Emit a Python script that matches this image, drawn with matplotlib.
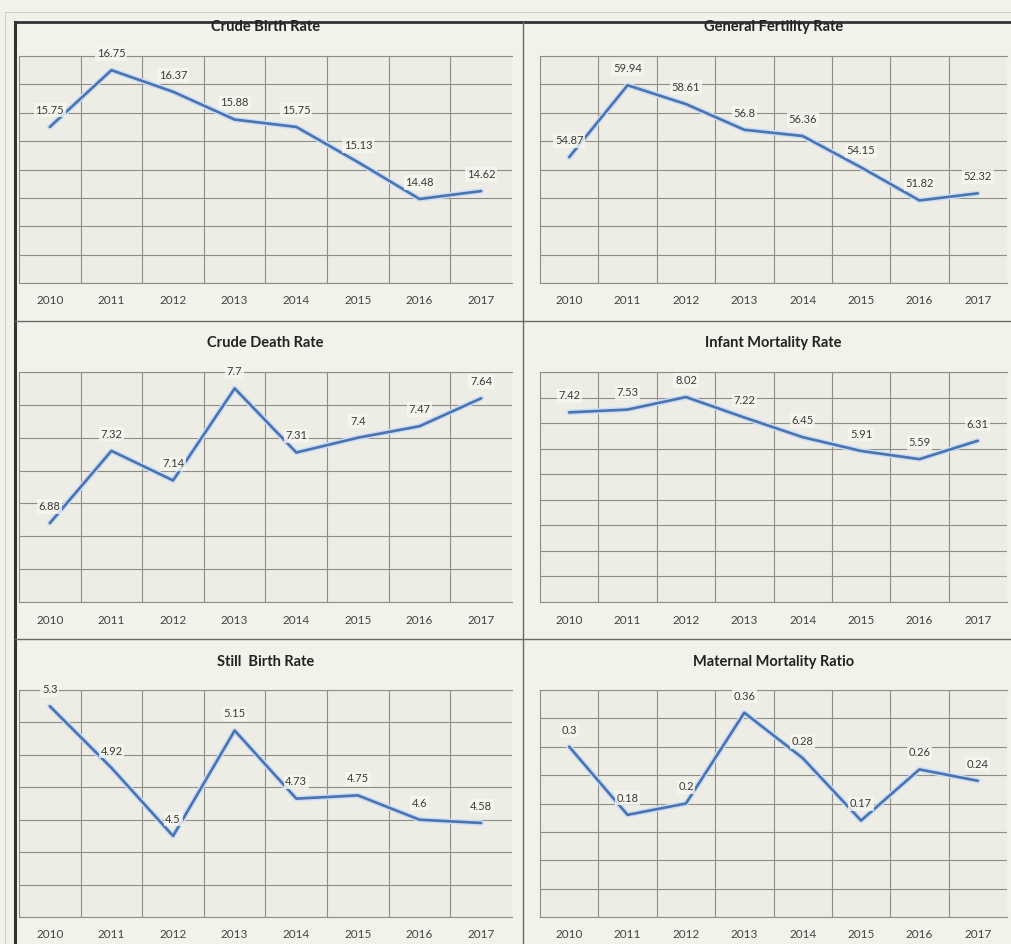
import matplotlib
matplotlib.use("Agg")
import matplotlib.pyplot as plt
from matplotlib.lines import Line2D
import numpy as np

plt.rcParams["font.family"] = ["Lato", "DejaVu Sans"]

W, H = 1012, 944

years = ["2010", "2011", "2012", "2013", "2014", "2015", "2016", "2017"]

crude_birth_rate = [15.75, 16.75, 16.37, 15.88, 15.75, 15.13, 14.48, 14.62]
general_fertility_rate = [54.87, 59.94, 58.61, 56.8, 56.36, 54.15, 51.82, 52.32]
crude_death_rate = [6.88, 7.32, 7.14, 7.7, 7.31, 7.4, 7.47, 7.64]
infant_mortality_rate = [7.42, 7.53, 8.02, 7.22, 6.45, 5.91, 5.59, 6.31]
still_birth_rate = [5.3, 4.92, 4.5, 5.15, 4.73, 4.75, 4.6, 4.58]
maternal_mortality_ratio = [0.3, 0.18, 0.2, 0.36, 0.28, 0.17, 0.26, 0.24]

titles = [
    "Crude Birth Rate", "General Fertility Rate",
    "Crude Death Rate", "Infant Mortality Rate",
    "Still  Birth Rate", "Maternal Mortality Ratio",
]
series = [
    crude_birth_rate, general_fertility_rate,
    crude_death_rate, infant_mortality_rate,
    still_birth_rate, maternal_mortality_ratio,
]

# y axis (min, max, step) for each panel, as in the workbook charts
y_axes = [
    (13, 17, 0.5), (46, 62, 2),
    (6.4, 7.8, 0.2), (0, 9, 1),
    (4.0, 5.4, 0.2), (0, 0.4, 0.05),
]

# pixel boxes (left, top, right, bottom) of the plot areas and title rows
col_x = [(19, 512), (540, 1007)]
row_y = [(56, 283), (372, 602), (690, 917)]
title_y = [27, 343, 662]

BG = "#f2f1ea"
PLOT_BG = "#eeede5"
GRID = "#8e8e88"
LINE = "#4874b4"
GLOW = "#cddcf0"
TEXT = "#3a3a3a"

fig = plt.figure(figsize=(W / 100, H / 100), dpi=100, facecolor=BG)


def px_axes(left, top, right, bottom):
    return fig.add_axes([left / W, 1 - bottom / H, (right - left) / W, (bottom - top) / H])


def fig_line(x0, y0, x1, y1, color, lw):
    fig.add_artist(Line2D([x0 / W, x1 / W], [1 - y0 / H, 1 - y1 / H],
                          transform=fig.transFigure, color=color, lw=lw))


# faint outer frame and table borders
fig_line(5, 12, 1012, 12, "#d0d0c8", 0.8)
fig_line(5, 12, 5, 944, "#d0d0c8", 0.8)
fig_line(15, 22, 1012, 22, "#333333", 2.0)
fig_line(15, 22, 15, 944, "#333333", 2.2)
fig_line(523, 22, 523, 944, "#6a6a66", 1.0)
fig_line(15, 321, 1012, 321, "#6a6a66", 1.0)
fig_line(15, 639, 1012, 639, "#6a6a66", 1.0)

x = np.arange(len(years))

for i, (title, values, (ymin, ymax, step)) in enumerate(zip(titles, series, y_axes)):
    row, col = divmod(i, 2)
    left, right = col_x[col]
    top, bottom = row_y[row]
    ax = px_axes(left, top, right, bottom)
    ax.set_facecolor(PLOT_BG)

    ax.plot(x, values, color=GLOW, lw=4.0, solid_capstyle="round", zorder=2)
    ax.plot(x, values, color=LINE, lw=1.9, solid_capstyle="round", zorder=3)

    for xi, v in zip(x, values):
        ax.annotate(f"{v:g}", (xi, v), xytext=(0, 12), textcoords="offset points",
                    ha="center", va="center", fontsize=8, color=TEXT, zorder=4,
                    bbox=dict(boxstyle="square,pad=0.15", fc="#f7f6f0", ec="none", alpha=0.8))

    ax.set_xlim(-0.5, len(years) - 0.5)
    ax.set_ylim(ymin, ymax)
    ax.set_yticks(np.arange(ymin, ymax + step / 2, step))
    ax.set_yticklabels([])
    ax.set_xticks(x)
    ax.set_xticklabels(years, fontsize=8.5, color="#444444")
    ax.set_xticks(np.arange(0.5, len(years) - 0.5, 1), minor=True)
    ax.tick_params(axis="both", which="both", length=0)
    ax.tick_params(axis="x", pad=9)
    ax.grid(True, axis="y", which="major", color=GRID, lw=0.8)
    ax.grid(True, axis="x", which="minor", color=GRID, lw=0.8)
    ax.set_axisbelow(True)
    for side in ["left", "top", "bottom"]:
        ax.spines[side].set_color(GRID)
        ax.spines[side].set_linewidth(0.8)
    ax.spines["right"].set_visible(False)

    fig.text((left + right) / 2 / W, 1 - title_y[row] / H, title, ha="center", va="center",
             fontsize=10.5, fontweight="bold", color="#222222")

fig.savefig("out.png", dpi=100, facecolor=BG)
